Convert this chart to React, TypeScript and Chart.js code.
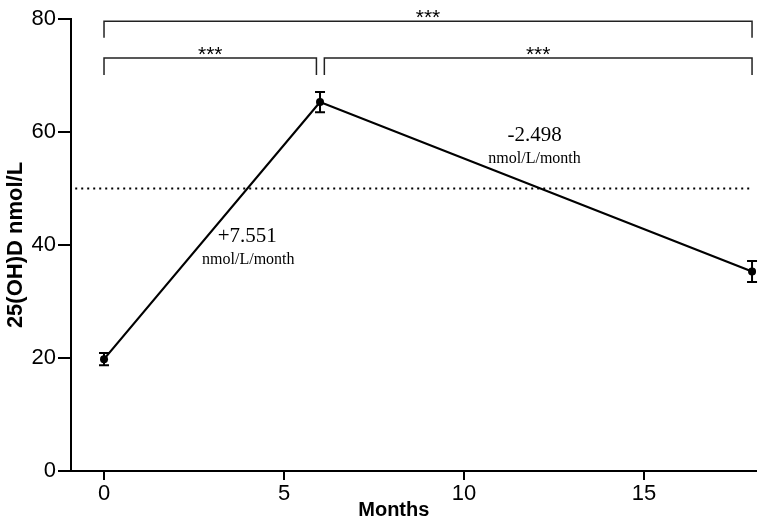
import React, { useEffect, useRef } from "react";
import { Chart, registerables } from "chart.js";
Chart.register(...registerables);

const months = [0, 6, 18];
const meanLevels = [19.8, 65.3, 35.3];
const semLevels = [1.1, 1.8, 1.85];
const thresholdValue = 50;
const thresholdRange = [-0.8, 18];
const xTickValues = [0, 5, 10, 15];
const yTickValues = [0, 20, 40, 60, 80];
const bracketStarts = [0, 0, 6.12];
const bracketEnds = [18, 5.9, 18];
const bracketLevels = [79.6, 73.1, 73.1];
const bracketDrop = [2.9, 3.0, 3.0];
const bracketLabels = ["***", "***", "***"];
const slopeTexts = ["+7.551", "-2.498"];
const slopeUnit = "nmol/L/month";
const slopeX = [3.98, 11.96];
const slopeY = [41.5, 59.4];
const xTitle = "Months";
const xTitleAt = 8.05;

const SANS = "'Liberation Sans', Arial, sans-serif";
const SERIF = "'Liberation Serif', 'Times New Roman', serif";

const overlayPlugin = {
  id: "overlay",
  afterDatasetsDraw(chart: any) {
    const ctx = chart.ctx;
    const xs = chart.scales.x;
    const ys = chart.scales.y;
    ctx.save();
    // error bars
    ctx.strokeStyle = "#000";
    ctx.lineWidth = 2;
    months.forEach((m, i) => {
      const px = xs.getPixelForValue(m);
      const top = ys.getPixelForValue(meanLevels[i] + semLevels[i]);
      const bot = ys.getPixelForValue(meanLevels[i] - semLevels[i]);
      ctx.beginPath();
      ctx.moveTo(px, top);
      ctx.lineTo(px, bot);
      ctx.moveTo(px - 5, top);
      ctx.lineTo(px + 5, top);
      ctx.moveTo(px - 5, bot);
      ctx.lineTo(px + 5, bot);
      ctx.stroke();
    });
    // brackets
    ctx.strokeStyle = "#222";
    ctx.lineWidth = 1.5;
    ctx.fillStyle = "#000";
    ctx.font = `21px ${SANS}`;
    ctx.textAlign = "center";
    ctx.textBaseline = "alphabetic";
    bracketStarts.forEach((s, i) => {
      const x1 = xs.getPixelForValue(s);
      const x2 = xs.getPixelForValue(bracketEnds[i]);
      const y = ys.getPixelForValue(bracketLevels[i]);
      const yd = ys.getPixelForValue(bracketLevels[i] - bracketDrop[i]);
      ctx.beginPath();
      ctx.moveTo(x1, yd);
      ctx.lineTo(x1, y);
      ctx.lineTo(x2, y);
      ctx.lineTo(x2, yd);
      ctx.stroke();
      ctx.fillText(bracketLabels[i], (x1 + x2) / 2, y + 3);
    });
    // slope annotations
    ctx.textBaseline = "middle";
    slopeTexts.forEach((t, i) => {
      const px = xs.getPixelForValue(slopeX[i]);
      const py = ys.getPixelForValue(slopeY[i]);
      ctx.font = `21px ${SERIF}`;
      ctx.fillText(t, px, py);
      ctx.font = `16px ${SERIF}`;
      ctx.fillText(slopeUnit, px + (i === 0 ? 1 : 0), py + 23);
    });
    // x title
    ctx.font = `bold 20px ${SANS}`;
    ctx.fillText(xTitle, xs.getPixelForValue(xTitleAt), xs.bottom - 16);
    ctx.restore();
  },
};

export default function App() {
  const ref = useRef<HTMLCanvasElement | null>(null);
  useEffect(() => {
    document.body.style.margin = "0";
    const canvas = ref.current;
    if (!canvas) return;
    const chart = new Chart(canvas, {
      type: "line",
      data: {
        datasets: [
          {
            data: months.map((m, i) => ({ x: m, y: meanLevels[i] })),
            borderColor: "#000",
            backgroundColor: "#000",
            borderWidth: 2.2,
            pointRadius: 4,
            pointBackgroundColor: "#000",
            pointBorderWidth: 0,
            tension: 0,
          },
          {
            data: thresholdRange.map((x) => ({ x, y: thresholdValue })),
            borderColor: "#000",
            borderWidth: 2,
            borderDash: [2, 4],
            pointRadius: 0,
          },
        ],
      },
      options: {
        animation: false,
        responsive: false,
        maintainAspectRatio: false,
        layout: { padding: { top: 19, right: 0, left: 0, bottom: 0 } },
        plugins: { legend: { display: false }, tooltip: { enabled: false } },
        scales: {
          x: {
            type: "linear",
            min: -0.917,
            max: 18.11,
            afterBuildTicks: (axis: any) => {
              axis.ticks = xTickValues.map((v) => ({ value: v }));
            },
            afterFit: (s: any) => {
              s.height = 55;
            },
            border: { display: true, color: "#000", width: 2 },
            grid: {
              display: true,
              drawOnChartArea: false,
              drawTicks: true,
              tickLength: 9,
              color: "#000",
              lineWidth: 2,
            },
            ticks: {
              color: "#000",
              font: { family: SANS, size: 22 },
              padding: 1,
              maxRotation: 0,
            },
            title: { display: false },
          },
          y: {
            type: "linear",
            min: 0,
            max: 80,
            afterBuildTicks: (axis: any) => {
              axis.ticks = yTickValues.map((v) => ({ value: v }));
            },
            afterFit: (s: any) => {
              s.width = 71;
            },
            border: { display: true, color: "#000", width: 2 },
            grid: {
              display: true,
              drawOnChartArea: false,
              drawTicks: true,
              tickLength: 13,
              color: "#000",
              lineWidth: 2,
            },
            ticks: {
              color: "#000",
              font: { family: SANS, size: 22 },
              padding: 2,
            },
            title: {
              display: true,
              text: "25(OH)D nmol/L",
              color: "#000",
              font: { family: SANS, size: 22, weight: "bold" },
              padding: { top: 3, bottom: 0 },
            },
          },
        },
      },
      plugins: [overlayPlugin],
    } as any);
    return () => chart.destroy();
  }, []);
  return (
    <div style={{ width: 760, height: 526 }}>
      <canvas ref={ref} width={760} height={526} style={{ display: "block" }} />
    </div>
  );
}
